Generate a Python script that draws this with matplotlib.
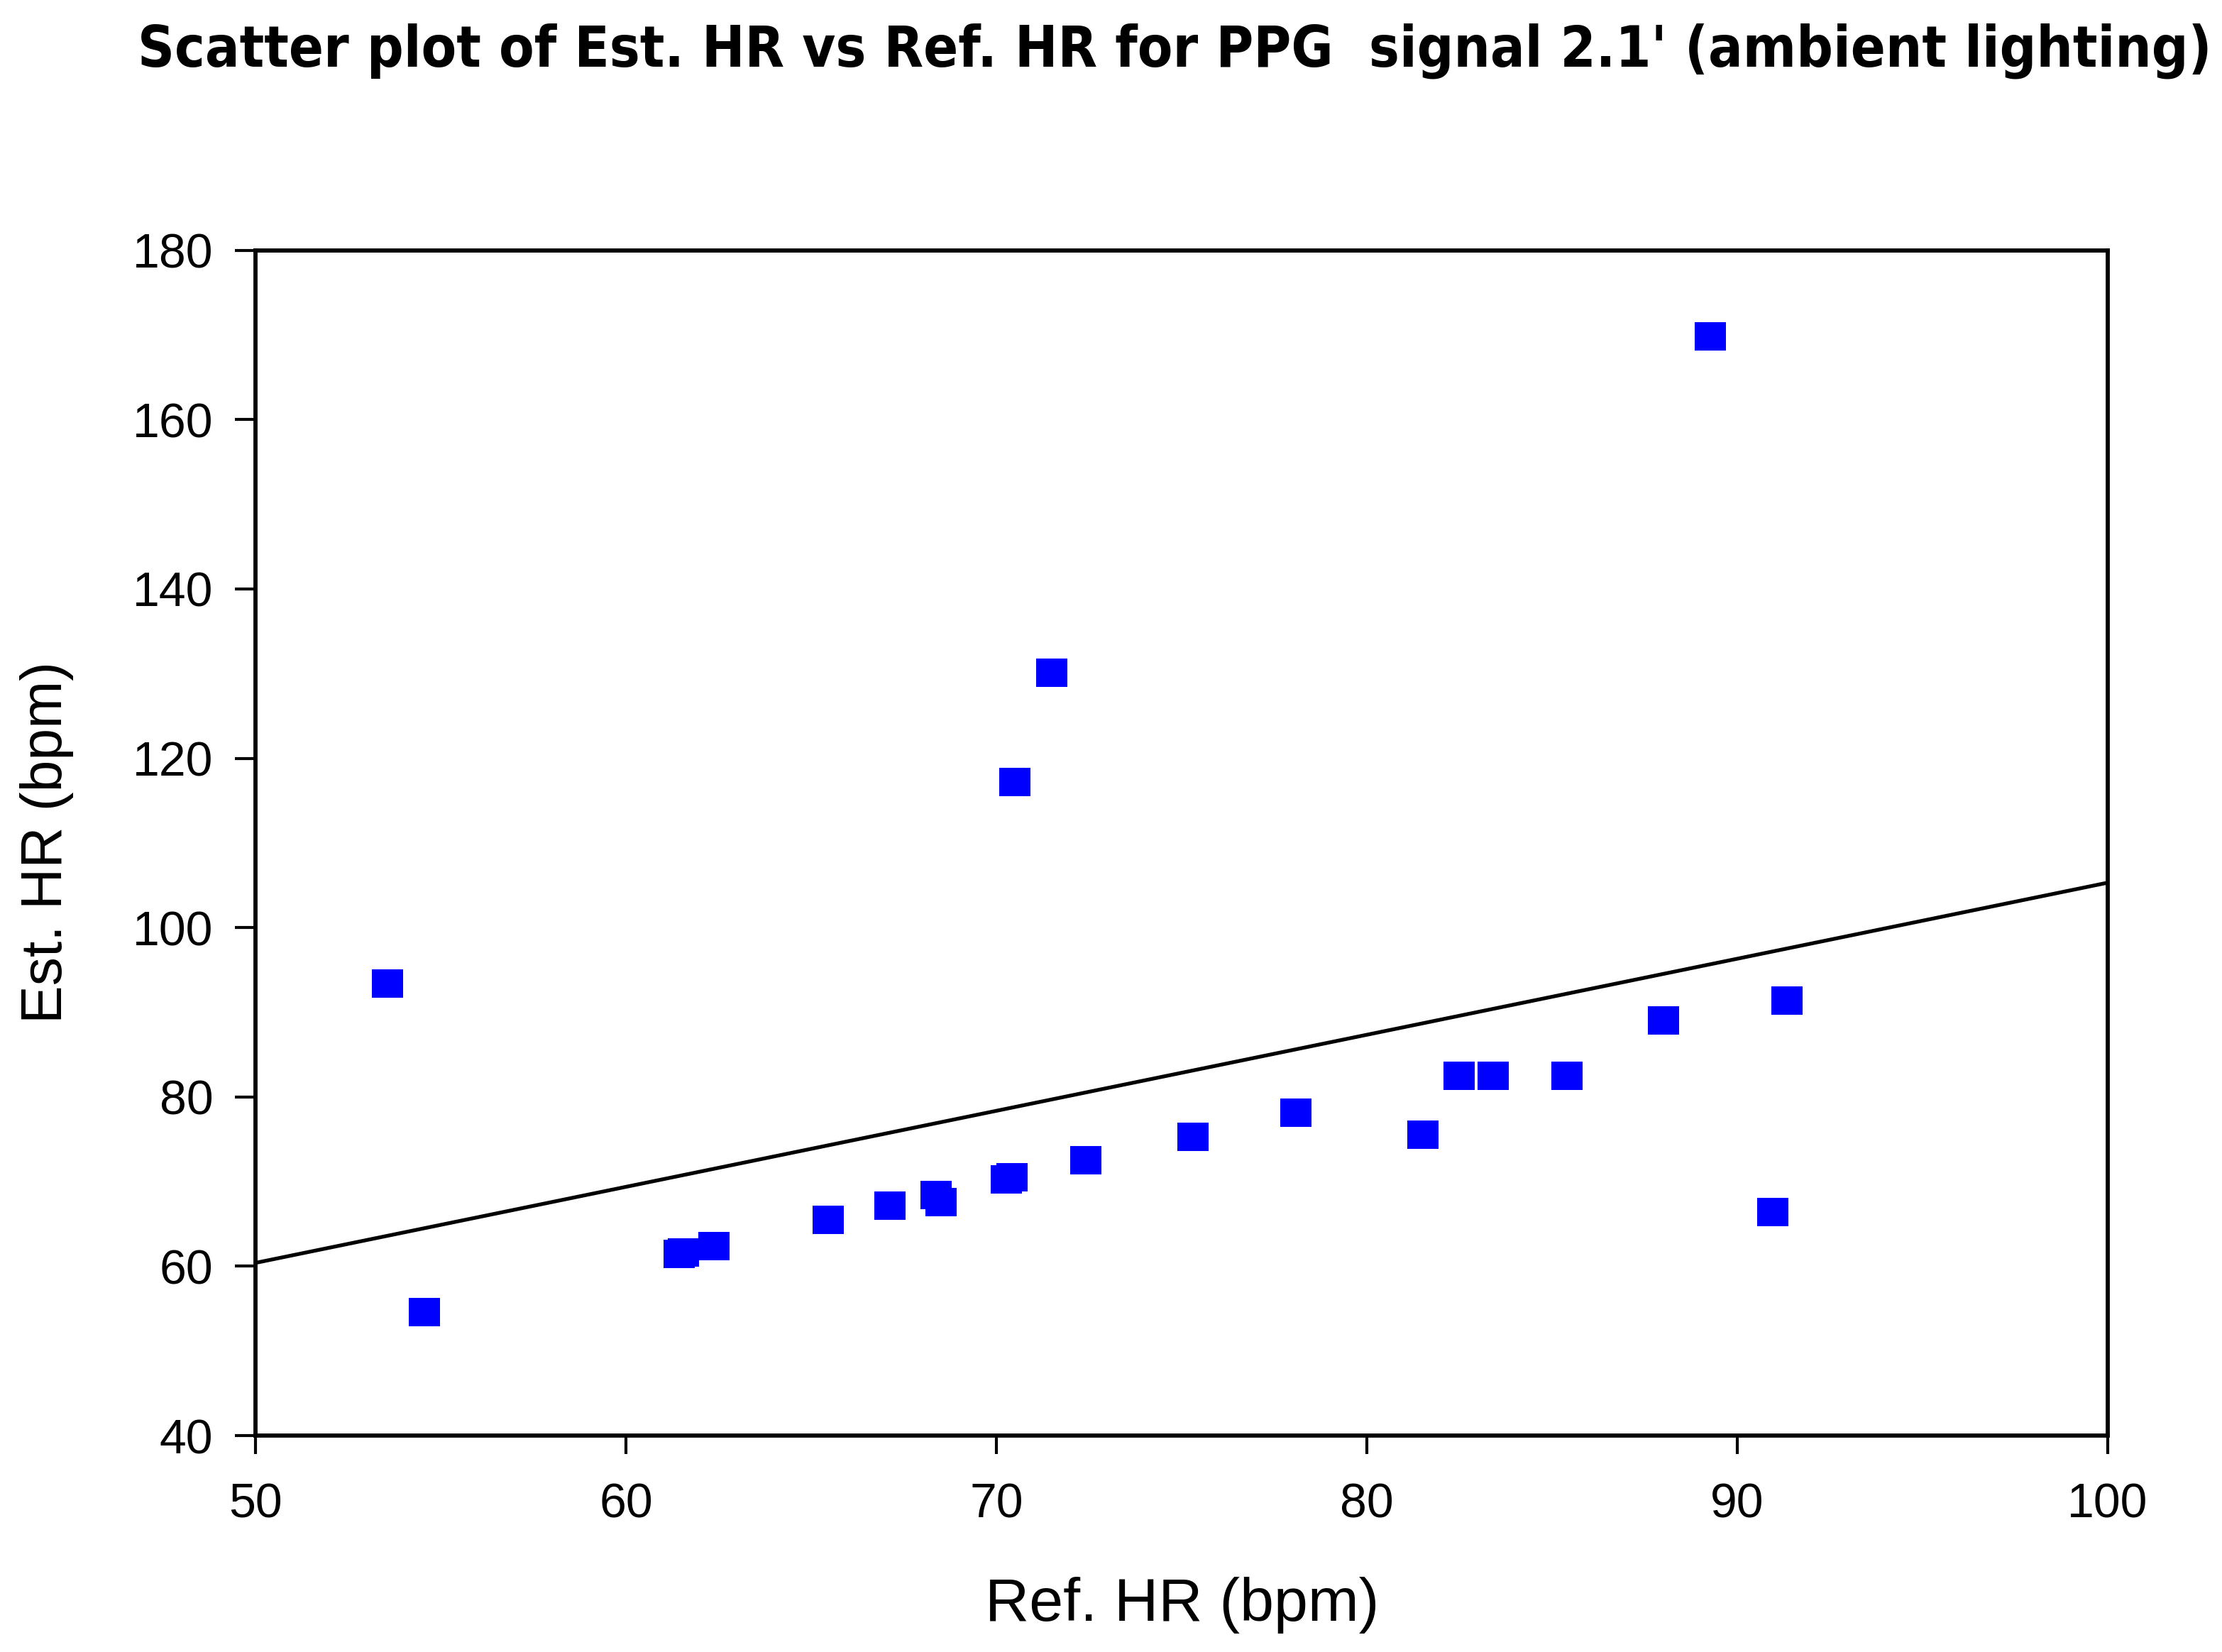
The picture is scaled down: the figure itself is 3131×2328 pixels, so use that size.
import matplotlib
matplotlib.use("Agg")
import matplotlib.pyplot as plt
from matplotlib import font_manager

# ---- data ----
ref_hr = [53.56, 54.56, 61.44, 61.56, 62.37, 65.46, 67.13, 68.37, 68.51,
          70.27, 70.43, 70.50, 71.50, 72.41, 75.31, 78.09, 81.51, 82.49,
          83.42, 85.40, 88.01, 89.28, 90.97, 91.35]
est_hr = [93.4, 54.6, 61.5, 61.6, 62.4, 65.5, 67.2, 68.4, 67.6,
          70.3, 70.5, 117.2, 130.1, 72.5, 75.3, 78.1, 75.5, 82.5,
          82.5, 82.5, 89.0, 169.8, 66.4, 91.4]

# fitted line, end points at the axis limits
fit_x = [50, 100]
fit_y = [60.4, 105.3]

x_ticks = [50, 60, 70, 80, 90, 100]
y_ticks = [40, 60, 80, 100, 120, 140, 160, 180]

title = "Scatter plot of Est. HR vs Ref. HR for PPG  signal 2.1' (ambient lighting)"

# ---- fonts ----
# the original title is set in a condensed bold face; pick one if installed
narrow = [f for f in font_manager.fontManager.ttflist
          if (f.stretch in ("condensed", "semi-condensed", "extra-condensed")
              or "Narrow" in f.name or "Condensed" in f.name)
          and f.weight in ("bold", 700, "semibold", 600)
          and f.style == "normal"]
if narrow:
    title_kw = dict(fontproperties=font_manager.FontProperties(fname=narrow[0].fname))
else:
    title_kw = dict(family=["Liberation Sans", "DejaVu Sans"], fontweight="bold")

plt.rcParams["font.family"] = ["Liberation Sans", "DejaVu Sans"]

DPI = 200
fig = plt.figure(figsize=(3131 / DPI, 2328 / DPI), dpi=DPI)
ax = fig.add_axes([0.115, 0.1310, 0.8335, 0.7175])

ax.plot(fit_x, fit_y, color="black", lw=1.9, zorder=2)

# slightly wider than tall squares, like the original
box = [(-1, -0.91), (1, -0.91), (1, 0.91), (-1, 0.91), (-1, -0.91)]
ax.plot(ref_hr, est_hr, ls="none", marker=box, ms=15.8,
        mfc="#0000FF", mec="#0000FF", mew=0, zorder=3)

ax.set_xlim(50, 100)
ax.set_ylim(40, 180)
ax.set_xticks(x_ticks)
ax.set_yticks(y_ticks)
ax.tick_params(axis="x", direction="out", length=9.5, width=1.5,
               pad=14, labelsize=24.5, top=False)
ax.tick_params(axis="y", direction="out", length=10.5, width=1.5,
               pad=11, labelsize=24.5, right=False)
for s in ax.spines.values():
    s.set_linewidth(2.1)

fig.text(0.532, 0.019, "Ref. HR (bpm)", ha="center", va="baseline", fontsize=31)
fig.text(0.0212, 0.490, "Est. HR (bpm)", ha="center", va="center",
         rotation=90, fontsize=29)
t = fig.text(0.5287, 0.960, title, ha="center", va="baseline",
             fontsize=33, **title_kw)

# keep the title at the width of the original (about 2920 px)
fig.canvas.draw()
w = t.get_window_extent().width
t.set_fontsize(t.get_fontsize() * 2920 / w)

fig.savefig("out.png", dpi=DPI, facecolor="white")
